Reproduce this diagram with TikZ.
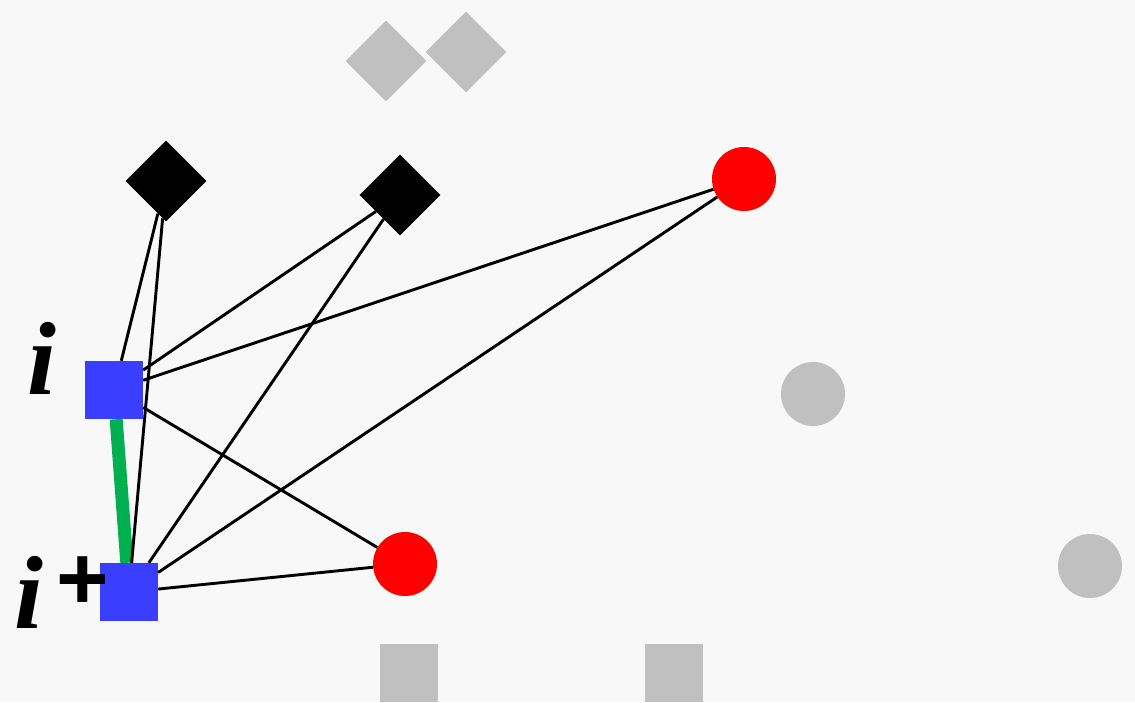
\documentclass[tikz,border=0pt]{standalone}
\usepackage{fontspec}
\setmainfont{Liberation Serif}
\newfontfamily\plusfont{Liberation Sans}
\usetikzlibrary{positioning,shapes.geometric}
\definecolor{bgray}{HTML}{F8F8F8}
\definecolor{ngray}{HTML}{C0C0C0}
\definecolor{nblue}{HTML}{3A3EFF}
\definecolor{nred}{HTML}{FF0000}
\definecolor{ngreen}{HTML}{00B050}

\begin{document}
\begin{tikzpicture}[
x=1pt, y=-1pt,
sq/.style={rectangle, inner sep=0pt, minimum size=58pt},
dia/.style={diamond, inner sep=0pt, minimum size=81pt},
dot/.style={circle, inner sep=0pt, minimum size=64pt},
edge/.style={line width=2.9pt, black},
lbl/.style={inner sep=0pt, anchor=base, font=\fontsize{104}{110}\selectfont\bfseries\itshape}
]
\fill[bgray] (0,0) rectangle (1135,702);
\useasboundingbox (0,0) rectangle (1135,702);

% faded nodes
\node[dia, fill=ngray] (ga) at (386,61) {};
\node[dia, fill=ngray] (gb) at (466,52) {};
\node[dot, fill=ngray] (gc) at (813,394) {};
\node[dot, fill=ngray] (gd) at (1090,566) {};
\node[sq, fill=ngray] (ge) at (409,673) {};
\node[sq, fill=ngray] (gf) at (674,673) {};

% active nodes
\node[dia, fill=black] (da) at (166,181) {};
\node[dia, fill=black] (db) at (400,195) {};
\node[dot, fill=nred] (ra) at (744,179) {};
\node[dot, fill=nred] (rb) at (405,564) {};
\node[sq, fill=nblue] (bi) at (114,390) {};
\node[sq, fill=nblue] (bj) at (129,592) {};

\node[lbl] (li) at (42,394) {i};
\node[lbl, anchor=base west] (lj) at (14,628) {i\hspace{13pt}\raisebox{19pt}{\fontsize{90}{90}\selectfont\plusfont\upshape\bfseries +}};

\draw[line width=13pt, ngreen] (bi) -- (bj);
\draw[edge] (bi) -- (da);
\draw[edge] (bj) -- (da);
\draw[edge] (bi) -- (db);
\draw[edge] (bj) -- (db);
\draw[edge] (bi) -- (ra);
\draw[edge] (bj) -- (ra);
\draw[edge] (bi) -- (rb);
\draw[edge] (bj) -- (rb);
\end{tikzpicture}
\end{document}
